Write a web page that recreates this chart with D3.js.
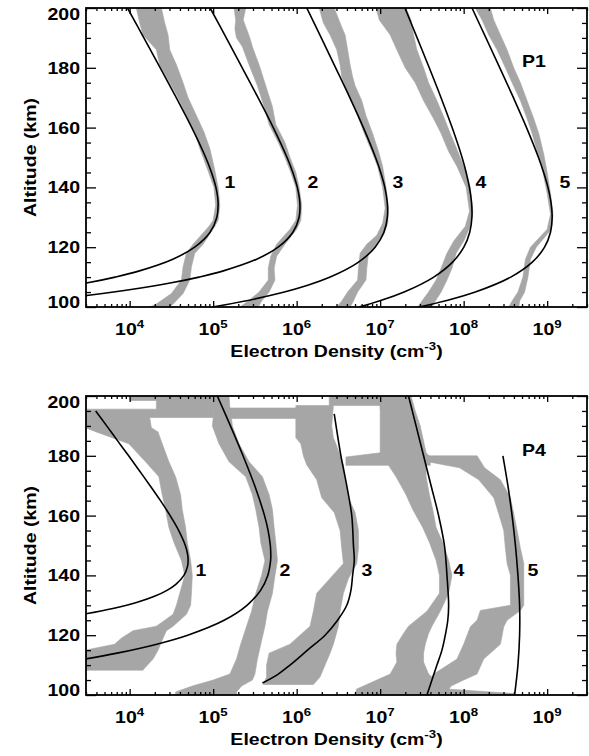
<!DOCTYPE html>
<html><head><meta charset="utf-8">
<script src="https://cdn.jsdelivr.net/npm/d3@7"></script>
<style>
body{margin:0;background:#fff}
text{font-family:"Liberation Sans",Arial,Helvetica,sans-serif;font-weight:bold;fill:#000}
</style></head>
<body><svg id="chart" width="589" height="756"></svg>
<script>
// ---------------- DATA (altitude km, log10 electron density cm^-3) ----------------
const altitudeTicks = [100, 120, 140, 160, 180, 200];
const densityDecades = [4, 5, 6, 7, 8, 9];
const profileLabels = ["1", "2", "3", "4", "5"];
const panelNames = ["P1", "P4"];

// Panel P1 model profiles: [altitude, log10 Ne]
const p1Model1 = [[200,3.974],[190,4.170],[180,4.366],[170,4.558],[160,4.744],[150,4.911],[145,4.980],[140,5.033],[135,5.059],[130,5.044],[125,4.963],[120,4.778],[116,4.517],[112,4.107],[110,3.826],[108,3.482],[106,3.061]];
const p1Model2 = [[200,4.964],[190,5.157],[180,5.348],[170,5.538],[160,5.720],[150,5.885],[145,5.954],[140,6.008],[135,6.038],[130,6.029],[125,5.955],[120,5.778],[116,5.521],[112,5.113],[110,4.831],[108,4.484],[106,4.056],[104,3.534],[102,2.897]];
const p1Model3 = [[200,6.121],[190,6.295],[180,6.467],[170,6.637],[160,6.799],[150,6.945],[145,7.007],[140,7.056],[135,7.085],[130,7.086],[125,7.045],[120,6.940],[115,6.741],[110,6.402],[107,6.103],[105,5.853],[102,5.382],[100,4.992]];
const p1Model4 = [[200,7.297],[190,7.443],[180,7.588],[170,7.729],[160,7.862],[150,7.981],[145,8.030],[140,8.069],[135,8.094],[130,8.099],[125,8.073],[120,8.002],[115,7.867],[110,7.642],[105,7.287],[102,6.989],[100,6.746]];
const p1Model5 = [[200,8.100],[190,8.267],[180,8.433],[170,8.596],[160,8.753],[150,8.896],[145,8.958],[140,9.010],[135,9.046],[130,9.060],[125,9.040],[120,8.969],[115,8.822],[110,8.564],[105,8.140],[102,7.773],[100,7.469]];

// Panel P1 measured ranges: [altitude, log10 Ne low, log10 Ne high]
const p1Obs1 = [[200,4.08,4.38],[195,4.12,4.42],[191,4.16,4.46],[186,4.32,4.48],[181,4.36,4.56],[175,4.48,4.64],[170,4.58,4.70],[164,4.68,4.80],[158.5,4.78,4.89],[153,4.84,4.96],[147,4.92,5.01],[140,5.01,5.06],[134,5.03,5.08],[129,5.00,5.06],[127,4.95,5.02],[121,4.76,4.88],[118,4.68,4.78],[113.5,4.64,4.74],[109,4.62,4.72],[104.5,4.50,4.64],[101,4.32,4.52],[100,4.24,4.48]];
const p1Obs2 = [[200,5.25,5.39],[196,5.27,5.36],[193,5.26,5.40],[190,5.28,5.44],[187,5.35,5.47],[181,5.43,5.55],[174,5.53,5.63],[167,5.61,5.71],[161,5.67,5.75],[155,5.78,5.86],[150,5.86,5.92],[145,5.93,5.99],[140,5.99,6.03],[134,6.01,6.06],[129,5.99,6.05],[126,5.92,6.00],[121,5.76,5.86],[117,5.69,5.76],[113,5.66,5.73],[109,5.66,5.74],[105,5.55,5.67],[102,5.42,5.58],[100,5.32,5.54]];
const p1Obs3 = [[200,6.27,6.45],[195,6.32,6.52],[191,6.40,6.58],[186,6.48,6.61],[181,6.52,6.64],[177,6.54,6.67],[174,6.58,6.70],[169,6.66,6.78],[164,6.73,6.83],[158,6.81,6.91],[152,6.90,6.98],[147,6.97,7.03],[140,7.03,7.07],[133,7.06,7.10],[128,7.03,7.09],[124,6.96,7.04],[121,6.84,6.96],[118,6.76,6.86],[113,6.74,6.84],[109,6.73,6.83],[105,6.61,6.73],[102,6.54,6.68],[100,6.48,6.64]];
const p1Obs4 = [[200,6.95,7.31],[196,6.99,7.37],[191,7.12,7.40],[186,7.20,7.44],[180,7.30,7.52],[175,7.42,7.58],[169,7.52,7.68],[163,7.64,7.77],[158,7.73,7.84],[152,7.82,7.93],[147,7.92,8.00],[140,8.03,8.08],[132,8.07,8.11],[127,8.02,8.08],[122,7.88,8.00],[118,7.80,7.91],[113,7.73,7.86],[109,7.67,7.80],[105,7.58,7.73],[102,7.50,7.66],[100,7.45,7.62]];
const p1Obs5 = [[200,8.14,8.32],[196,8.22,8.36],[191,8.30,8.44],[186,8.40,8.52],[180,8.50,8.60],[175,8.58,8.68],[169,8.68,8.76],[163,8.76,8.84],[158,8.82,8.90],[151,8.89,8.96],[145,8.95,9.00],[138,9.00,9.04],[131,9.04,9.07],[126,9.00,9.05],[123,8.90,8.96],[120,8.80,8.87],[116,8.74,8.80],[110,8.71,8.77],[105,8.65,8.73],[102,8.58,8.67],[100,8.54,8.66]];

// Panel P4 model profiles
const p4Model1 = [[195,3.593],[190,3.725],[185,3.856],[180,3.988],[175,4.117],[170,4.245],[165,4.369],[160,4.485],[155,4.588],[150,4.667],[147,4.694],[145,4.700],[143,4.693],[140,4.650],[137,4.553],[135,4.447],[133,4.297],[131,4.091],[129,3.813],[127,3.444],[125,2.959]];
const p4Model2 = [[200,5.050],[190,5.207],[180,5.358],[170,5.498],[160,5.615],[155,5.658],[150,5.685],[147,5.690],[145,5.688],[140,5.654],[135,5.568],[130,5.405],[125,5.131],[120,4.695],[117,4.325],[114,3.850],[112,3.462],[110,3.004]];
const p4Model3 = [[194,6.45],[185,6.50],[180,6.53],[170,6.60],[160,6.66],[150,6.68],[145,6.69],[140,6.67],[135,6.65],[130,6.60],[125,6.49],[120,6.34],[115,6.13],[110,5.92],[107,5.78],[104,5.59]];
const p4Model4 = [[200,7.34],[190,7.43],[180,7.52],[170,7.61],[160,7.70],[150,7.77],[140,7.80],[130,7.82],[125,7.81],[120,7.78],[115,7.74],[110,7.68],[105,7.62],[100,7.56]];
const p4Model5 = [[180,8.47],[170,8.53],[160,8.58],[150,8.62],[140,8.65],[130,8.67],[120,8.67],[110,8.65],[100,8.61]];

// Panel P4 measured ranges
const p4Obs1 = [[200,4.0,5.0],[198.5,4.0,5.0],[198.5,4.32,5.0],[195.6,4.32,5.0],[195.6,3.47,5.0],[192.8,3.47,5.0],[192.8,3.47,4.24],[189.4,3.47,4.26],[188,3.60,4.34],[184,3.99,4.39],[178,4.19,4.47],[173,4.35,4.55],[167,4.39,4.61],[162,4.43,4.63],[156,4.47,4.67],[151,4.53,4.69],[145,4.62,4.73],[140,4.66,4.75],[134,4.60,4.74],[130,4.56,4.73],[127,4.52,4.68],[123,4.32,4.52],[121.5,4.04,4.44],[119,3.90,4.40],[117,3.82,4.37],[115,3.47,4.34],[112,3.47,4.28],[109,3.47,4.18],[108.3,3.47,4.16]];
const p4Obs2 = [[200,4.99,5.19],[196,5.0,5.2],[196,5.0,6.1],[192.5,5.0,6.1],[192.5,5.0,5.22],[190,4.99,5.23],[184,5.07,5.31],[178,5.19,5.43],[173,5.39,5.59],[167,5.47,5.67],[162,5.51,5.71],[156,5.55,5.73],[151,5.57,5.75],[145,5.62,5.77],[140,5.58,5.74],[134,5.51,5.71],[128,5.46,5.65],[123,5.40,5.62],[117,5.33,5.57],[112,5.28,5.53],[107,5.20,5.50],[105,5.00,5.47],[103,4.75,5.34],[101,4.55,5.28],[100,4.55,5.28]];
const p4Obs3 = [[200,6.39,7.35],[196.8,6.39,7.35],[196.8,5.99,6.44],[190,5.99,6.42],[186,5.99,6.44],[184,6.05,6.47],[180,6.08,6.52],[177,6.12,6.56],[172,6.24,6.58],[166,6.30,6.62],[161,6.45,6.70],[155,6.52,6.74],[149,6.54,6.74],[144,6.56,6.72],[139,6.40,6.62],[134,6.24,6.56],[128,6.20,6.52],[123,6.16,6.50],[117,5.92,6.44],[114,5.67,6.40],[110,5.64,6.34],[106,5.64,6.28],[103.5,5.60,6.20]];
const p4Obs4 = [[200,6.99,7.37],[195,7.0,7.42],[190,7.0,7.48],[181,7.0,7.55],[179.6,6.59,7.60],[176.8,6.59,7.60],[176.8,7.10,7.55],[173,7.19,7.55],[167,7.31,7.59],[162,7.39,7.63],[156,7.51,7.67],[151,7.59,7.75],[145,7.67,7.82],[140,7.71,7.86],[134,7.71,7.82],[128,7.56,7.72],[123,7.34,7.62],[120.6,7.28,7.58],[117,7.20,7.54],[114,7.19,7.52],[111,7.20,7.52],[107,7.12,7.58],[104,6.88,7.70],[102,6.72,7.80],[100.5,6.70,8.60],[100,6.70,8.60]];
const p4Obs5 = [[180,7.52,8.16],[178.3,7.52,8.20],[176,7.95,8.25],[172,8.18,8.44],[166,8.36,8.56],[160.6,8.42,8.60],[155,8.48,8.64],[149,8.50,8.68],[144,8.52,8.72],[140,8.56,8.72],[130,8.56,8.72],[128.3,8.20,8.68],[125,8.16,8.52],[122.8,8.08,8.48],[117,8.00,8.44],[112,7.92,8.24],[107,7.64,8.16],[105,7.60,8.00],[103,7.40,7.85],[101,6.90,7.80],[100,6.90,7.80]];
</script>
<script>
const svg = d3.select("#chart");
const SX = 1.22;
const GRAY = "#a6a6a6";

function txt(g, x, y, s, anchor, size, sup) {
  const t = g.append("text")
    .attr("transform", `translate(${x},${y}) scale(${SX},1)`)
    .attr("text-anchor", anchor).style("font-size", size + "px");
  t.append("tspan").text(s);
  if (sup) t.append("tspan").attr("dy", -size * 0.45).style("font-size", (size * 0.68) + "px").text(sup);
  return t;
}

const panels = [
  { top: 8, bottom: 307, name: panelNames[0], nameY: 67,
    models: [p1Model1, p1Model2, p1Model3, p1Model4, p1Model5],
    obs: [p1Obs1, p1Obs2, p1Obs3, p1Obs4, p1Obs5],
    labels: [[230,188],[313,188],[398,188],[481,188],[565,188]] },
  { top: 396, bottom: 695, name: panelNames[1], nameY: 456,
    models: [p4Model1, p4Model2, p4Model3, p4Model4, p4Model5],
    obs: [p4Obs1, p4Obs2, p4Obs3, p4Obs4, p4Obs5],
    labels: [[201,576],[285,576],[367,576],[459,576],[533,576]] }
];

const left = 86, right = 587;
const x = d3.scaleLog().domain([3e3, 3e9]).range([left, right]);

panels.forEach((p, pi) => {
  const y = d3.scaleLinear().domain([100, 200]).range([p.bottom, p.top]);
  const g = svg.append("g");
  const clipId = "clip" + pi;
  svg.append("clipPath").attr("id", clipId).append("rect")
    .attr("x", left).attr("y", p.top).attr("width", right - left).attr("height", p.bottom - p.top);

  const plot = g.append("g").attr("clip-path", `url(#${clipId})`);
  const area = d3.area()
    .y(d => y(d[0])).x0(d => x(Math.pow(10, d[1]))).x1(d => x(Math.pow(10, d[2])));
  p.obs.forEach(o => plot.append("path").attr("d", area(o)).attr("fill", GRAY).attr("stroke", GRAY).attr("stroke-width", 0.6));

  const line = d3.line().x(d => x(Math.pow(10, d[1]))).y(d => y(d[0])).curve(d3.curveCatmullRom.alpha(0.5));
  p.models.forEach(m => plot.append("path").attr("d", line(m)).attr("fill", "none").attr("stroke", "#000").attr("stroke-width", 1.6));

  const majorsY = altitudeTicks;
  const minorsY = d3.range(100, 201, 5).filter(v => !majorsY.includes(v));
  const majorsX = densityDecades.map(e => Math.pow(10, e));
  const minorsX = [];
  for (let e = 3; e <= 9; e++) for (let k = 2; k <= 9; k++) { const v = k * Math.pow(10, e); if (v >= 3e3 && v <= 3e9) minorsX.push(v); }

  const ax = g.append("g");
  const mk = (axisFn, scale, vals, len, tr) => {
    const a = ax.append("g").attr("transform", tr)
      .call(axisFn(scale).tickValues(vals).tickSizeInner(-len).tickSizeOuter(0).tickFormat(""));
    a.select(".domain").remove();
    a.selectAll("line").attr("stroke", "#000").attr("stroke-width", 1.3);
  };
  mk(d3.axisLeft, y, majorsY, 10, `translate(${left},0)`);
  mk(d3.axisLeft, y, minorsY, 5, `translate(${left},0)`);
  mk(d3.axisRight, y, majorsY, 10, `translate(${right},0)`);
  mk(d3.axisRight, y, minorsY, 5, `translate(${right},0)`);
  mk(d3.axisBottom, x, majorsX, 6, `translate(0,${p.bottom})`);
  mk(d3.axisBottom, x, minorsX, 3, `translate(0,${p.bottom})`);
  mk(d3.axisTop, x, majorsX, 6, `translate(0,${p.top})`);
  mk(d3.axisTop, x, minorsX, 3, `translate(0,${p.top})`);

  g.append("rect").attr("x", left).attr("y", p.top).attr("width", right - left).attr("height", p.bottom - p.top)
    .attr("fill", "none").attr("stroke", "#000").attr("stroke-width", 1.8);

  majorsY.forEach(v => {
    let yy = y(v) + 6;
    if (v === 200) yy += 6;
    if (v === 100) yy -= 5;
    txt(g, 80, yy, String(v), "end", 16);
  });
  densityDecades.forEach((e, i) => txt(g, x(majorsX[i]), p.bottom + 28, "10", "middle", 16, String(e)));

  txt(g, (left + right) / 2, p.bottom + 50, "Electron Density (cm", "middle", 16, "-3")
    .append("tspan").attr("dy", 16 * 0.45).style("font-size", "16px").text(")");
  g.append("text").attr("transform", `translate(36,${(p.top + p.bottom) / 2}) rotate(-90) scale(${SX},1)`)
    .attr("text-anchor", "middle").style("font-size", "16px").text("Altitude (km)");

  p.labels.forEach((l, i) => txt(g, l[0], l[1], profileLabels[i], "middle", 16));
  txt(g, 534, p.nameY, p.name, "middle", 16);
});
</script>
</body></html>
